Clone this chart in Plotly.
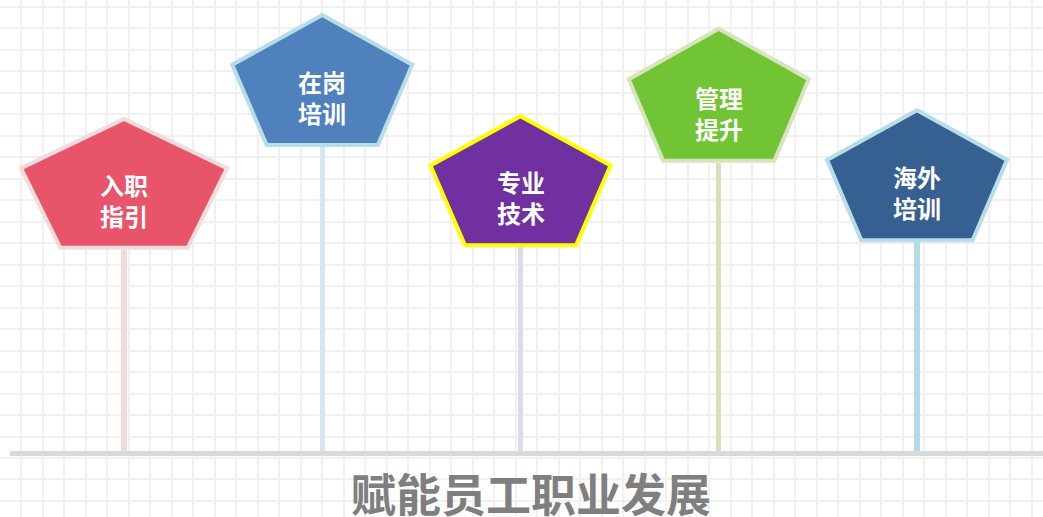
import plotly.graph_objects as go

# ---------------- data ----------------
categories = ["入职指引", "在岗培训", "专业技术", "管理提升", "海外培训"]
labels = ["入职<br>指引", "在岗<br>培训", "专业<br>技术", "管理<br>提升", "海外<br>培训"]
values = [44.6, 67.4, 45.2, 63.9, 46.3]
title_text = "赋能员工职业发展"

# ---------------- styles ----------------
fill_colors = ["#E8556A", "#4F81BD", "#7030A0", "#71C434", "#366092"]
border_colors = ["#F2DCDB", "#B7DEE8", "#FFFF00", "#D7E4BD", "#B7DEE8"]
stem_colors = ["#F0DADA", "#D3E9F1", "#DEDAE6", "#D7E2BC", "#B3DAE5"]
symbol_w = [210, 184, 184, 184, 184]   # px, outer
symbol_h = [133, 134, 133, 136, 134]   # px, outer
border_w = 4
FONT = "Noto Sans CJK SC"

W, H = 1043, 517
PLOT_LEFT = 10
PLOT_BOTTOM = 451


def pentagon_path(w, h, lw):
    pw, ph = w - lw, h - lw
    b = lw / 2.0
    t = b + ph
    s = b + 0.618 * ph
    bx = 0.309 * pw
    return (f"M 0,{t:.1f} L {pw/2:.1f},{s:.1f} L {bx:.1f},{b:.1f} "
            f"L {-bx:.1f},{b:.1f} L {-pw/2:.1f},{s:.1f} Z")


fig = go.Figure()

# background grid subplot (xy) - no data
fig.add_trace(go.Scatter(x=[], y=[], xaxis="x", yaxis="y",
                         showlegend=False, hoverinfo="skip"))

# stems (bars) on x2/y2
fig.add_trace(go.Bar(
    x=categories, y=values, xaxis="x2", yaxis="y2",
    width=0.026,
    marker=dict(color=stem_colors, line=dict(width=0)),
    showlegend=False, hoverinfo="skip",
))

shapes = []
annotations = []
for i, cat in enumerate(categories):
    shapes.append(dict(
        type="path", xref="x2", yref="y2",
        xsizemode="pixel", ysizemode="pixel",
        xanchor=i, yanchor=values[i],
        path=pentagon_path(symbol_w[i], symbol_h[i], border_w),
        fillcolor=fill_colors[i],
        line=dict(color=border_colors[i], width=border_w),
        layer="above",
    ))
    annotations.append(dict(
        x=cat, y=values[i], xref="x2", yref="y2",
        yshift=50, showarrow=False, text=labels[i],
        font=dict(family=FONT, size=24, color="white", weight="bold"),
        xanchor="center", yanchor="middle",
    ))

annotations.append(dict(
    x=530.5 / W, y=1 - 492.0 / H, xref="paper", yref="paper",
    showarrow=False, text=title_text,
    font=dict(family=FONT, size=45, color="#7F7F7F", weight="bold"),
    xanchor="center", yanchor="middle",
))

# category axis mapping: center of first at 124px, last at 917px
spacing = (917 - 124) / 4.0
x2_lo = (PLOT_LEFT - 124) / spacing
x2_hi = (W - 124) / spacing

grid_step = 21.49
fig.update_layout(
    width=W, height=H, autosize=False,
    margin=dict(l=0, r=0, t=0, b=0, pad=0),
    paper_bgcolor="white", plot_bgcolor="rgba(0,0,0,0)",
    bargap=0,
    xaxis=dict(domain=[0, 1], anchor="y", range=[0, W], tick0=0, dtick=grid_step,
               showgrid=True, gridcolor="#F1F1F1", gridwidth=2,
               showticklabels=False, ticks="", zeroline=False, showline=False,
               fixedrange=True),
    yaxis=dict(domain=[0, 1], anchor="x", range=[H, 0], tick0=6.7, dtick=grid_step,
               showgrid=True, gridcolor="#F1F1F1", gridwidth=2,
               showticklabels=False, ticks="", zeroline=False, showline=False,
               fixedrange=True),
    xaxis2=dict(domain=[PLOT_LEFT / W, 1], anchor="y2", type="category",
                range=[x2_lo, x2_hi], showgrid=False, zeroline=False,
                showticklabels=False, ticks="",
                showline=True, linecolor="#D9D9D9", linewidth=5),
    yaxis2=dict(domain=[(H - PLOT_BOTTOM) / H, 1], anchor="x2", range=[0, 100],
                visible=False, showgrid=False, zeroline=False),
    shapes=shapes,
    annotations=annotations,
    font=dict(family=FONT),
)

fig.write_html("out.html",
               config={"displayModeBar": False},
               post_script="document.body.style.margin='0';document.body.style.overflow='hidden';")
